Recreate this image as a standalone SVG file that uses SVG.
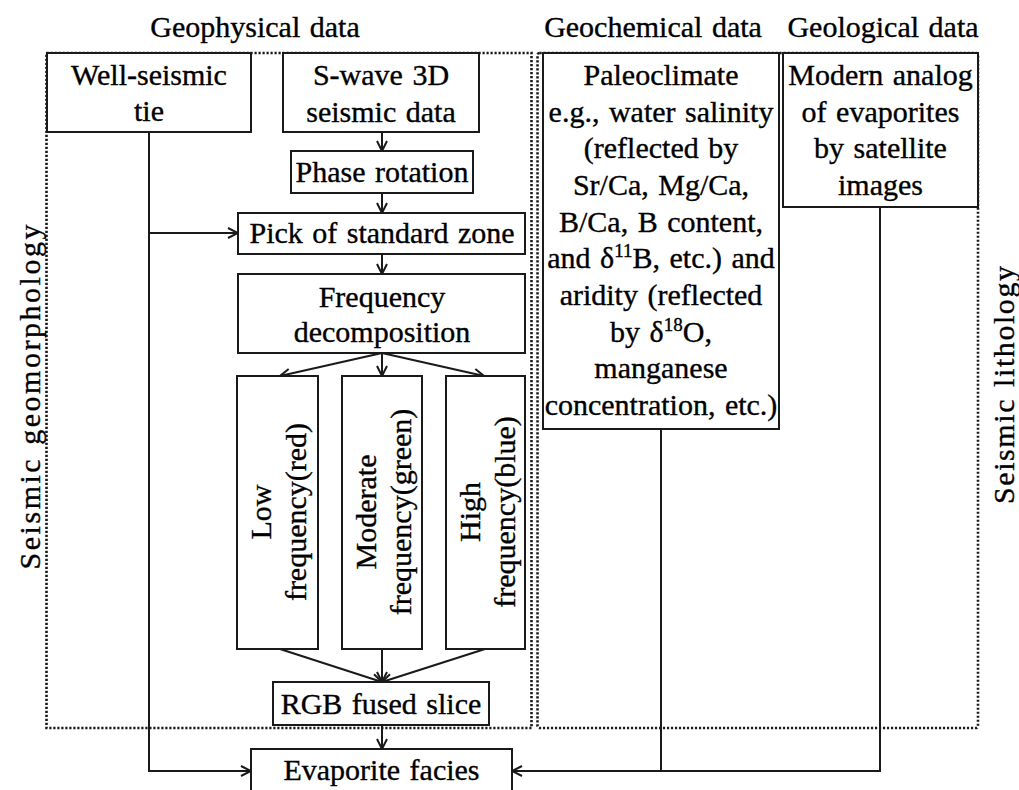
<svg xmlns="http://www.w3.org/2000/svg" width="1019" height="790" viewBox="0 0 1019 790">
<style>
text{font-family:"Liberation Serif","Times New Roman",serif;font-size:30px;fill:#000;stroke:#000;stroke-width:0.35;text-anchor:middle;word-spacing:2px}
.box{fill:#fff;stroke:#1a1a1a;stroke-width:2}
.dot{fill:none;stroke:#1a1a1a;stroke-width:2.6;stroke-dasharray:2.2 1.8}
.ln{fill:none;stroke:#1a1a1a;stroke-width:2}
.sup{font-size:19px}
</style>
<defs>
<marker id="ah" viewBox="0 0 12 12" refX="11" refY="6" markerWidth="12" markerHeight="12" markerUnits="userSpaceOnUse" orient="auto">
<path d="M1,1 L11,6 L1,11" fill="none" stroke="#1a1a1a" stroke-width="2"/>
</marker>
</defs>
<rect width="1019" height="790" fill="#fff"/>
<g id="groups">
<rect class="dot" x="46.5" y="53" width="485" height="675"/>
<rect class="dot" x="537.5" y="53" width="440.5" height="675" rx="2"/>
<text x="255" y="37">Geophysical data</text>
<text x="653" y="37">Geochemical data</text>
<text x="883" y="37">Geological data</text>
<text transform="translate(40,397) rotate(-90)" textLength="345" lengthAdjust="spacing">Seismic geomorphology</text>
<text transform="translate(1014,385) rotate(-90)" textLength="238" lengthAdjust="spacing">Seismic lithology</text>
</g>
<g id="connectors">
<line class="ln" x1="382" y1="132" x2="382" y2="151" marker-end="url(#ah)"/>
<line class="ln" x1="382" y1="193" x2="382" y2="213" marker-end="url(#ah)"/>
<line class="ln" x1="382" y1="254" x2="382" y2="274" marker-end="url(#ah)"/>
<polyline class="ln" points="149,132 149,771 251,771" marker-end="url(#ah)"/>
<line class="ln" x1="149" y1="233" x2="238" y2="233" marker-end="url(#ah)"/>
<line class="ln" x1="382" y1="353" x2="280" y2="376" marker-end="url(#ah)"/>
<line class="ln" x1="382" y1="353" x2="382" y2="376" marker-end="url(#ah)"/>
<line class="ln" x1="382" y1="353" x2="484" y2="376" marker-end="url(#ah)"/>
<line class="ln" x1="280" y1="649" x2="382" y2="682" marker-end="url(#ah)"/>
<line class="ln" x1="382" y1="649" x2="382" y2="682" marker-end="url(#ah)"/>
<line class="ln" x1="485" y1="649" x2="382" y2="682" marker-end="url(#ah)"/>
<line class="ln" x1="382" y1="725" x2="382" y2="749" marker-end="url(#ah)"/>
<line class="ln" x1="661" y1="429" x2="661" y2="771"/>
<polyline class="ln" points="880,207 880,771 512,771" marker-end="url(#ah)"/>
</g>
<g id="well-tie">
<rect class="box" x="47" y="53" width="204" height="79"/>
<text x="149" y="85">Well-seismic</text>
<text x="149" y="121">tie</text>
</g>
<g id="s-wave">
<rect class="box" x="283" y="53" width="196" height="79"/>
<text x="381" y="85">S-wave 3D</text>
<text x="381" y="122">seismic data</text>
</g>
<g id="phase">
<rect class="box" x="291" y="151" width="182" height="42"/>
<text x="382" y="182">Phase rotation</text>
</g>
<g id="pick">
<rect class="box" x="238" y="213" width="287" height="41"/>
<text x="382" y="243">Pick of standard zone</text>
</g>
<g id="freq-decomp">
<rect class="box" x="238" y="274" width="287" height="79"/>
<text x="382" y="307">Frequency</text>
<text x="382" y="342">decomposition</text>
</g>
<g id="low">
<rect class="box" x="237" y="376" width="81" height="273"/>
<text transform="translate(277,512) rotate(-90)"><tspan x="0" y="-6">Low</tspan><tspan x="0" y="29">frequency(red)</tspan></text>
</g>
<g id="moderate">
<rect class="box" x="342" y="376" width="80" height="273"/>
<text transform="translate(382,512) rotate(-90)"><tspan x="0" y="-6">Moderate</tspan><tspan x="0" y="29">frequency(green)</tspan></text>
</g>
<g id="high">
<rect class="box" x="446" y="376" width="79" height="273"/>
<text transform="translate(485,512) rotate(-90)"><tspan x="0" y="-5">High</tspan><tspan x="0" y="30">frequency(blue)</tspan></text>
</g>
<g id="rgb">
<rect class="box" x="273" y="682" width="216" height="43"/>
<text x="381" y="714">RGB fused slice</text>
</g>
<g id="evaporite">
<rect class="box" x="251" y="749" width="261" height="50"/>
<text x="381.5" y="780">Evaporite facies</text>
</g>
<g id="paleoclimate">
<rect class="box" x="543" y="53" width="236" height="376"/>
<text x="661" y="85">Paleoclimate</text>
<text x="661" y="122">e.g., water salinity</text>
<text x="661" y="158">(reflected by</text>
<text x="661" y="195">Sr/Ca, Mg/Ca,</text>
<text x="661" y="232">B/Ca, B content,</text>
<text x="661" y="268">and δ<tspan class="sup" dy="-11">11</tspan><tspan dy="11">B, etc.) and</tspan></text>
<text x="661" y="305">aridity (reflected</text>
<text x="661" y="342">by δ<tspan class="sup" dy="-11">18</tspan><tspan dy="11">O,</tspan></text>
<text x="661" y="378">manganese</text>
<text x="661" y="415">concentration, etc.)</text>
</g>
<g id="modern">
<rect class="box" x="783" y="53" width="195" height="154"/>
<text x="880.5" y="85">Modern analog</text>
<text x="880.5" y="122">of evaporites</text>
<text x="880.5" y="158">by satellite</text>
<text x="880.5" y="195">images</text>
</g>
</svg>
